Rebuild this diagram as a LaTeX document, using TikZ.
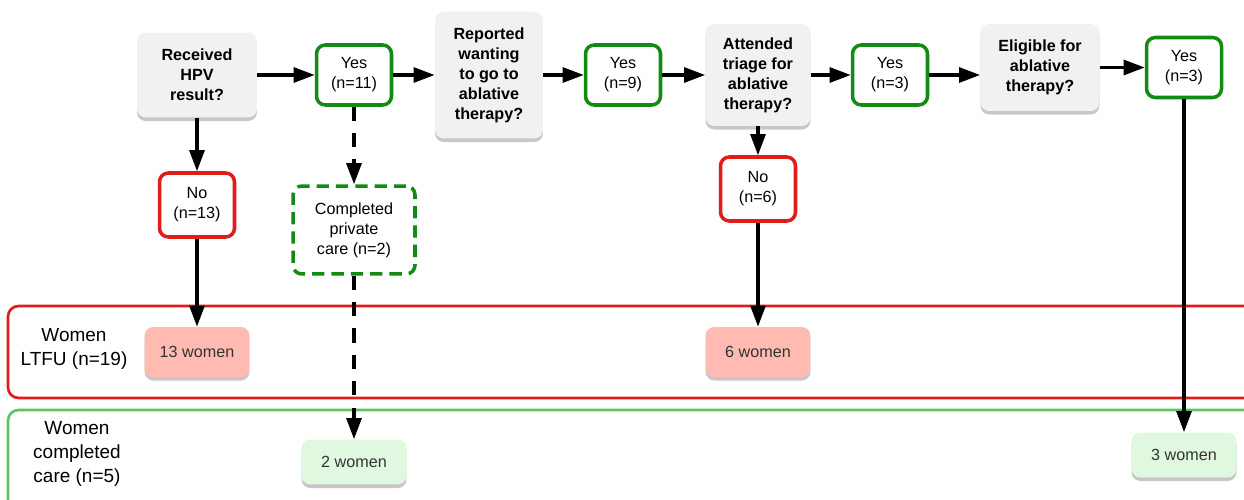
\documentclass[tikz,border=0pt]{standalone}
\usepackage{fontspec}
\setmainfont{Liberation Sans}
\usetikzlibrary{arrows.meta,positioning,shadows}

\definecolor{qgray}{HTML}{F0F1F3}
\definecolor{yesgreen}{HTML}{138A13}
\definecolor{nored}{HTML}{E21B1B}
\definecolor{ltfufill}{HTML}{FFBBB2}
\definecolor{donefill}{HTML}{E0F7E0}
\definecolor{bandgreen}{HTML}{5CC65C}

\newcommand\boxfont{\fontsize{9.2}{11.4}\selectfont}
\newcommand\bandfont{\fontsize{10.8}{13.6}\selectfont}

\tikzset{
  boxshadow/.style={drop shadow={shadow xshift=0pt, shadow yshift=-2pt, opacity=0.22, fill=black}},
  question/.style={rounded corners=5pt, fill=qgray, align=center, inner sep=2pt,
    font=\boxfont\bfseries, boxshadow},
  answer/.style={rounded corners=5pt, fill=white, line width=2pt, align=center,
    inner sep=2pt, font=\boxfont, minimum width=1.5cm, minimum height=1.2cm},
  yesbox/.style={answer, draw=yesgreen},
  nobox/.style={answer, draw=nored, minimum height=1.28cm},
  women/.style={rounded corners=5pt, align=center, font=\boxfont, text=black!80,
    minimum width=2.1cm, boxshadow},
  lost/.style={women, fill=ltfufill, minimum height=1cm},
  done/.style={women, fill=donefill, minimum height=0.9cm},
  bandlabel/.style={align=center, font=\bandfont},
  arrow/.style={-{Triangle[length=12pt, width=8.5pt]}, line width=1.8pt},
  dasharrow/.style={arrow, dash pattern=on 8pt off 7pt}
}

\begin{document}
\begin{tikzpicture}[x=0.02cm, y=-0.02cm]
  \clip (0,0) rectangle (1244,500);

  % outcome bands
  \draw[nored, line width=1.5pt, rounded corners=6pt] (8,306) rectangle (1280,398);
  \draw[bandgreen, line width=1.5pt, rounded corners=6pt] (8,410) rectangle (1280,520);
  \node[bandlabel] (ltfu) at (74,349) {Women\\LTFU (n=19)};
  \node[bandlabel] (compl) at (77,454) {Women\\completed\\care (n=5)};

  % main row
  \node[question, minimum width=2.4cm, minimum height=1.7cm] (hpv) at (197,75) {Received\\HPV\\result?};
  \node[yesbox] (yes11) at (354,75) {Yes\\(n=11)};
  \node[question, minimum width=2.16cm, minimum height=2.54cm] (want) at (489,75) {Reported\\wanting\\to go to\\ablative\\therapy?};
  \node[yesbox] (yes9) at (623,75) {Yes\\(n=9)};
  \node[question, minimum width=2.1cm, minimum height=2.04cm] (triage) at (758,75) {Attended\\triage for\\ablative\\therapy?};
  \node[yesbox] (yes3a) at (890,75) {Yes\\(n=3)};
  \node[question, minimum width=2.38cm, minimum height=1.74cm] (elig) at (1040,67.5) {Eligible for\\ablative\\therapy?};
  \node[yesbox] (yes3b) at (1184,67.5) {Yes\\(n=3)};

  % second row
  \node[nobox] (no13) at (197,205) {No\\(n=13)};
  \node[yesbox, dash pattern=on 7pt off 4pt, minimum width=2.44cm, minimum height=1.76cm] (private) at (354,230) {Completed\\private\\care (n=2)};
  \node[nobox] (no6) at (758,189) {No\\(n=6)};

  % women counts
  \node[lost] (w13) at (197,352) {13 women};
  \node[lost] (w6) at (758,352) {6 women};
  \node[done] (w2) at (354,462) {2 women};
  \node[done] (w3) at (1184,455) {3 women};

  % connectors
  \draw[arrow] (hpv) -- (yes11);
  \draw[arrow] (yes11) -- (want);
  \draw[arrow] (want) -- (yes9);
  \draw[arrow] (yes9) -- (triage);
  \draw[arrow] (triage) -- (yes3a);
  \draw[arrow] (yes3a.east) -- (yes3a.east -| elig.west);
  \draw[arrow] (elig) -- (yes3b);
  \draw[arrow] (hpv) -- (no13);
  \draw[arrow] (no13) -- (w13);
  \draw[dasharrow] (yes11) -- (private);
  \draw[dasharrow] (private) -- (w2);
  \draw[arrow] (triage) -- (no6);
  \draw[arrow] (no6) -- (w6);
  \draw[arrow] (yes3b) -- (w3);
\end{tikzpicture}
\end{document}
